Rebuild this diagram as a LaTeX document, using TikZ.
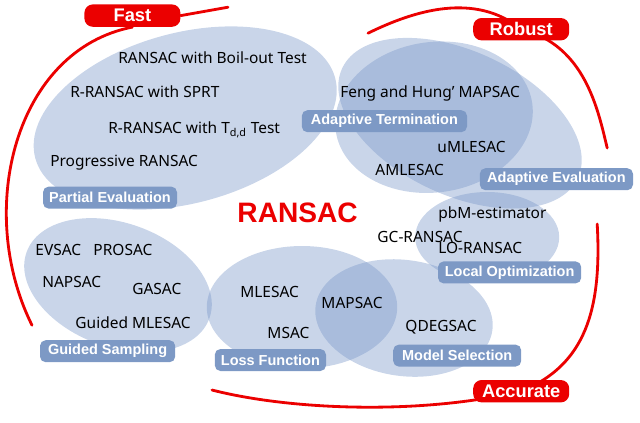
\documentclass[tikz,border=0pt]{standalone}
\usepackage{fontspec}
\setmainfont{Noto Sans}
\newfontfamily\headfont{Liberation Sans}
\usepackage{tikz}

\definecolor{blobblue}{RGB}{120,150,200}
\definecolor{tagblue}{RGB}{125,153,197}
\definecolor{hotred}{RGB}{235,0,0}

\pgfdeclarelayer{blobs}
\pgfdeclarelayer{arcs}
\pgfsetlayers{blobs,arcs,main}

\tikzset{
  blob/.style={fill=blobblue, fill opacity=0.4, draw=none},
  redarc/.style={draw=hotred, line width=2pt, line cap=round},
  item/.style={anchor=base west, inner sep=0pt, font=\fontsize{11}{13}\selectfont},
  group/.style={fill=tagblue, text=white, rounded corners=4pt, minimum height=0.55cm, inner sep=0pt,
    font=\headfont\bfseries\fontsize{10.3}{12}\selectfont},
  quality/.style={fill=hotred, text=white, rounded corners=6pt, minimum width=2.40cm, minimum height=0.56cm,
    inner sep=0pt, font=\headfont\bfseries\fontsize{13}{15}\selectfont}
}

\begin{document}
\begin{tikzpicture}
    \useasboundingbox (0.00,0.00) rectangle (16.00,-10.55);
    \begin{pgfonlayer}{blobs}
    \path[blob] (4.63,-2.95) circle [x radius=3.88, y radius=2.13, rotate=15];
    \path[blob] (11.50,-3.08) circle [x radius=3.25, y radius=1.80, rotate=-25];
    \path[blob] (10.85,-2.93) circle [x radius=2.48, y radius=1.88, rotate=8];
    \path[blob] (12.18,-5.93) circle [x radius=1.80, y radius=1.13];
    \path[blob] (2.95,-7.13) circle [x radius=2.43, y radius=1.55, rotate=-20];
    \path[blob] (7.55,-7.68) circle [x radius=2.38, y radius=1.53];
    \path[blob] (10.10,-7.95) circle [x radius=2.23, y radius=1.45, rotate=-8];
    \end{pgfonlayer}

    \node[quality] (fast) at (3.31,-0.39) {Fast};
    \node[quality] (robust) at (13.03,-0.73) {Robust};
    \node[quality] (accurate) at (13.03,-9.78) {Accurate};
    \coordinate (fastA) at (5.70,-0.18);
    \coordinate (fastB) at (0.80,-8.13);
    \coordinate (robA) at (9.20,-0.83);
    \coordinate (robB) at (15.18,-3.70);
    \coordinate (accA) at (14.93,-5.60);
    \coordinate (accB) at (5.30,-9.75);

    \begin{pgfonlayer}{arcs}
    \draw[redarc] (fast.east) -- (fastA);
    \draw[redarc] (fast.south) .. controls (0.38,-1.25) and (-0.63,-5.25) .. (fastB);
    \draw[redarc] (robA) .. controls (10.38,-0.25) and (11.88,0.20) .. (robust.center);
    \draw[redarc] (robust.center) .. controls (14.63,-1.13) and (14.95,-2.75) .. (robB);
    \draw[redarc] (accA) .. controls (15.05,-7.75) and (14.63,-9.13) .. (accurate.center);
    \draw[redarc] (accurate.center) .. controls (10.50,-10.38) and (7.25,-10.25) .. (accB);
    \end{pgfonlayer}

    \node[group, minimum width=3.35cm] (partial) at (2.75,-4.94) {Partial Evaluation};
    \node[group, minimum width=4.13cm] (adaptterm) at (9.61,-3.03) {Adaptive Termination};
    \node[group, minimum width=3.83cm] (adapteval) at (13.91,-4.48) {Adaptive Evaluation};
    \node[group, minimum width=3.58cm] (localopt) at (12.74,-6.81) {Local Optimization};
    \node[group, minimum width=3.38cm] (guided) at (2.69,-8.78) {Guided Sampling};
    \node[group, minimum width=2.78cm] (loss) at (6.76,-9.00) {Loss Function};
    \node[group, minimum width=3.20cm] (modelsel) at (11.43,-8.89) {Model Selection};

    \node[item] (boil) at (2.95,-1.58) {RANSAC with Boil-out Test};
    \node[item] (sprt) at (1.75,-2.43) {R-RANSAC with SPRT};
    \node[item] (tdd) at (2.70,-3.33) {R-RANSAC with T\textsubscript{d,d} Test};
    \node[item] (prog) at (1.25,-4.15) {Progressive RANSAC};
    \node[item] (feng) at (8.50,-2.43) {Feng and Hung’ MAPSAC};
    \node[item] (umle) at (10.93,-3.80) {uMLESAC};
    \node[item] (amle) at (9.38,-4.38) {AMLESAC};
    \node[item] (pbm) at (10.95,-5.45) {pbM-estimator};
    \node[item] (gcr) at (9.43,-6.05) {GC-RANSAC};
    \node[item] (lor) at (10.95,-6.33) {LO-RANSAC};
    \node[item] (evsac) at (0.88,-6.38) {EVSAC};
    \node[item] (prosac) at (2.33,-6.38) {PROSAC};
    \node[item] (napsac) at (1.05,-7.18) {NAPSAC};
    \node[item] (gasac) at (3.30,-7.35) {GASAC};
    \node[item] (gmle) at (1.88,-8.20) {Guided MLESAC};
    \node[item] (mlesac) at (6.00,-7.43) {MLESAC};
    \node[item] (msac) at (6.68,-8.45) {MSAC};
    \node[item] (mapsac) at (8.03,-7.70) {MAPSAC};
    \node[item] (qdeg) at (10.13,-8.28) {QDEGSAC};
    \node[anchor=base west, inner sep=0pt, text=hotred, font=\headfont\bfseries\fontsize{20}{24}\selectfont] (ransac) at (5.93,-5.55) {RANSAC};
\end{tikzpicture}
\end{document}
